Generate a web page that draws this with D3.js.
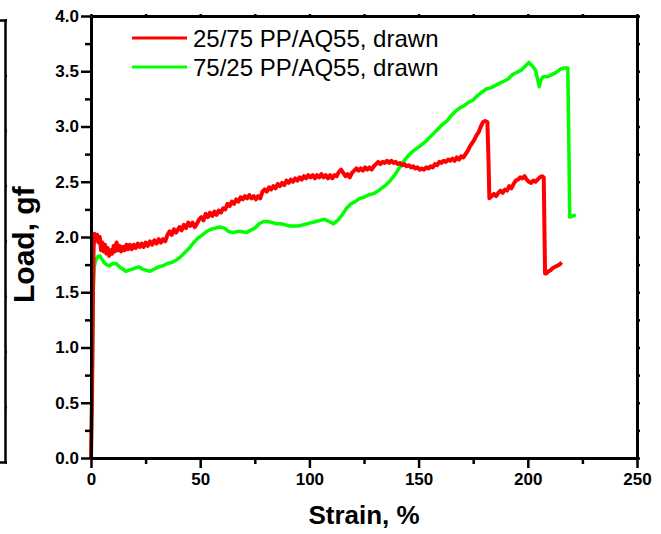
<!DOCTYPE html>
<html>
<head>
<meta charset="utf-8">
<script src="https://cdn.jsdelivr.net/npm/d3@7/dist/d3.min.js"></script>
<style>
  html, body { margin: 0; padding: 0; background: #fff; }
  svg { display: block; }
  text { font-family: "Liberation Sans", Arial, sans-serif; }
</style>
</head>
<body>
<svg id="chart" width="661" height="534"></svg>
<script>
// Tensile curves: load vs strain for two drawn PP/AQ55 blends
const seriesNames = ["25/75 PP/AQ55, drawn", "75/25 PP/AQ55, drawn"];
const seriesColors = ["#ff0000", "#00ff00"];

const redStrain = [0,0.5,0.9,1.2,1.6,2.2,2.8,3.4,4.0,4.6,5.2,5.8,6.4,7.0,7.6,8.3,9.0,9.7,10.4,11.0,11.7,12.4,13.1,13.8,14.6,15.4,16.2,17.0,17.8,18.7,19.6,20.5,21.4,22.3,23.2,24.1,25.0,26.0,27.0,28.0,29.0,30.0,31.0,32.0,33.0,34.0,35.0,36.0,37.0,38.0,39.0,40.5,41.5,42.5,43.5,44.5,45.5,46.5,47.5,48.5,49.5,50.5,51.5,52.5,53.5,54.5,55.5,56.5,57.5,58.5,59.5,60.5,61.5,62.5,63.5,64.5,65.5,66.5,67.5,68.5,69.5,70.5,71.5,72.5,73.5,74.5,75.5,76.5,77.5,78.5,79.5,80.5,81.5,82.5,83.5,84.5,85.5,86.5,87.5,88.5,89.5,90.5,91.5,92.5,93.5,94.5,95.5,96.5,97.5,98.5,99.5,100.5,101.5,102.5,103.5,104.5,105.5,106.5,107.5,108.5,109.5,110.5,111.5,112.5,113.5,114.5,115.5,116.5,117.5,118.5,119.5,120.5,121.5,122.5,123.5,124.5,125.5,126.5,127.5,128.5,129.5,130.5,131.5,132.5,133.5,134.5,135.5,136.5,137.5,138.5,139.5,140.5,141.5,142.5,143.5,144.5,145.5,146.5,147.5,148.5,149.5,150.5,151.5,152.5,153.5,154.5,155.5,156.5,157.5,158.5,159.5,160.5,161.5,162.5,163.5,164.5,165.5,166.5,167.5,168.5,169.5,170.5,171.5,172.5,173.5,174.5,175.5,176.5,177.5,178.5,179.5,180.5,181.5,182.0,182.4,183.5,184.5,185.5,186.5,187.5,188.5,189.5,190.5,191.5,192.5,193.5,194.5,195.5,196.5,197.5,198.5,199.5,200.5,201.5,202.5,203.5,204.5,205.5,206.5,207.3,207.6,207.9,208.5,209.5,210.5,211.5,212.5,213.5,214.5,215.5];
const redLoad = [0,0.6,1.5,1.9,2.03,1.97,2.02,1.95,2.0,1.88,1.95,1.87,1.93,1.85,1.9,1.83,1.88,1.85,1.92,1.87,1.95,1.88,1.92,1.87,1.91,1.88,1.93,1.89,1.93,1.89,1.93,1.9,1.94,1.91,1.94,1.91,1.95,1.92,1.96,1.93,1.97,1.94,1.98,1.95,1.98,1.96,2.02,2.05,2.02,2.07,2.04,2.09,2.06,2.11,2.08,2.13,2.1,2.13,2.09,2.12,2.16,2.18,2.15,2.21,2.18,2.22,2.19,2.23,2.2,2.24,2.22,2.26,2.25,2.3,2.28,2.32,2.3,2.34,2.32,2.36,2.34,2.37,2.35,2.38,2.35,2.37,2.34,2.37,2.35,2.41,2.43,2.41,2.45,2.43,2.46,2.44,2.48,2.46,2.49,2.47,2.51,2.49,2.52,2.5,2.53,2.51,2.54,2.52,2.55,2.53,2.56,2.54,2.56,2.53,2.56,2.54,2.57,2.54,2.56,2.53,2.56,2.53,2.56,2.55,2.59,2.61,2.58,2.55,2.57,2.54,2.58,2.6,2.62,2.6,2.62,2.6,2.63,2.61,2.63,2.61,2.64,2.66,2.68,2.66,2.68,2.67,2.69,2.67,2.69,2.67,2.68,2.66,2.67,2.65,2.66,2.64,2.65,2.63,2.64,2.62,2.63,2.61,2.62,2.61,2.63,2.62,2.64,2.63,2.66,2.65,2.68,2.67,2.69,2.68,2.7,2.69,2.71,2.69,2.72,2.7,2.73,2.72,2.75,2.78,2.82,2.85,2.88,2.92,2.95,3.0,3.04,3.05,3.04,2.7,2.35,2.37,2.39,2.37,2.4,2.42,2.4,2.43,2.42,2.46,2.44,2.48,2.51,2.52,2.54,2.53,2.55,2.52,2.5,2.49,2.51,2.5,2.52,2.54,2.55,2.54,2.1,1.67,1.67,1.69,1.7,1.72,1.73,1.74,1.75,1.77];

const greenStrain = [0,0.6,1.0,1.4,2.0,3.0,4.0,5.0,6.0,7.0,8.5,10.0,11.5,13.0,14.5,16.0,17.5,19.0,20.5,22.0,23.5,25.0,27.0,29.0,31.0,33.0,35.0,37.0,39.0,41.0,43.0,45.0,47.0,49.0,51.0,53.0,55.0,57.0,59.0,61.0,63.0,65.0,67.0,69.0,71.0,73.0,75.0,77.0,79.0,81.0,83.0,85.0,87.0,89.0,91.0,93.0,95.0,97.0,99.0,101.0,103.0,105.0,107.0,109.0,111.0,113.0,115.0,117.0,119.0,121.0,123.0,125.0,127.0,129.0,131.0,133.0,135.0,137.0,139.0,141.0,143.0,145.0,147.0,149.0,151.0,153.0,155.0,157.0,159.0,161.0,163.0,165.0,167.0,169.0,171.0,173.0,175.0,177.0,179.0,181.0,183.0,185.0,187.0,189.0,191.0,193.0,195.0,197.0,199.0,200.5,202.0,203.5,204.5,205.2,206.0,207.0,209.0,211.0,213.0,215.0,217.0,218.3,218.7,219.2,220.5,222.0];
const greenLoad = [0,0.8,1.5,1.72,1.78,1.82,1.83,1.8,1.77,1.75,1.74,1.76,1.76,1.73,1.71,1.69,1.7,1.71,1.72,1.73,1.71,1.7,1.69,1.71,1.73,1.74,1.76,1.77,1.79,1.82,1.86,1.9,1.95,1.99,2.02,2.05,2.07,2.08,2.09,2.08,2.05,2.04,2.05,2.05,2.04,2.06,2.08,2.12,2.14,2.14,2.13,2.12,2.12,2.11,2.1,2.1,2.1,2.11,2.12,2.13,2.14,2.15,2.16,2.14,2.12,2.15,2.2,2.26,2.3,2.32,2.35,2.36,2.38,2.39,2.41,2.44,2.47,2.51,2.56,2.62,2.68,2.73,2.77,2.8,2.83,2.86,2.9,2.94,2.98,3.02,3.05,3.1,3.14,3.17,3.19,3.22,3.24,3.28,3.31,3.34,3.35,3.37,3.39,3.41,3.43,3.47,3.49,3.51,3.55,3.58,3.55,3.51,3.43,3.36,3.42,3.45,3.45,3.47,3.49,3.52,3.53,3.53,3.0,2.18,2.19,2.2];

const xMajorTicks = [0, 50, 100, 150, 200, 250];
const xMinorTicks = [25, 75, 125, 175, 225];
const yMajorTicks = [0.0, 0.5, 1.0, 1.5, 2.0, 2.5, 3.0, 3.5, 4.0];
const yMinorTicks = [0.25, 0.75, 1.25, 1.75, 2.25, 2.75, 3.25, 3.75];
const xTitle = "Strain, %";
const yTitle = "Load, gf";

const svg = d3.select("#chart");
const plotLeft = 91, plotRight = 637, plotTop = 16, plotBottom = 458;

const x = d3.scaleLinear().domain([0, 250]).range([plotLeft, plotRight]);
const y = d3.scaleLinear().domain([0, 4]).range([plotBottom, plotTop]);

// Thin stray frame at the far left edge
const ghostY = d3.scaleLinear().domain([0, 4]).range([plotBottom + 4, plotTop + 4]);
const ghost = svg.append("g").attr("transform", "translate(5,0)");
ghost.call(d3.axisRight(ghostY).tickValues(yMajorTicks).tickSize(2).tickSizeOuter(-5).tickFormat(""));
ghost.select(".domain").attr("stroke-width", 2.5);
ghost.selectAll(".tick line").attr("stroke-width", 2.5);

// Curves
const line = d3.line().x(d => x(d[0])).y(d => y(d[1]));
const redData = redStrain.map((s, i) => [s, redLoad[i]]);
const greenData = greenStrain.map((s, i) => [s, greenLoad[i]]);

svg.append("path").datum(greenData).attr("d", line)
  .attr("fill", "none").attr("stroke", seriesColors[1]).attr("stroke-width", 3.5)
  .attr("stroke-linejoin", "round");
svg.append("path").datum(redData).attr("d", line)
  .attr("fill", "none").attr("stroke", seriesColors[0]).attr("stroke-width", 4)
  .attr("stroke-linejoin", "round");

// Axes
function styleAxis(g) {
  g.select(".domain").attr("stroke-width", 3);
  g.selectAll(".tick line").attr("stroke-width", 2.5);
}

const axisFont = "bold 17px 'Liberation Sans', Arial, sans-serif";

const gx = svg.append("g").attr("transform", `translate(0,${plotBottom})`)
  .call(d3.axisBottom(x).tickValues(xMajorTicks).tickSize(10).tickSizeOuter(0).tickPadding(5).tickFormat(d3.format("d")));
styleAxis(gx);
gx.selectAll(".tick text").style("font", axisFont).attr("fill", "#000");
const gxm = svg.append("g").attr("transform", `translate(0,${plotBottom})`)
  .call(d3.axisBottom(x).tickValues(xMinorTicks.filter(v => v <= 250)).tickSize(6).tickFormat(""));
gxm.select(".domain").remove();
gxm.selectAll(".tick line").attr("stroke-width", 2.5);

const gy = svg.append("g").attr("transform", `translate(${plotLeft},0)`)
  .call(d3.axisLeft(y).tickValues(yMajorTicks).tickSize(10).tickSizeOuter(0).tickPadding(2).tickFormat(d3.format(".1f")));
styleAxis(gy);
gy.selectAll(".tick text").style("font", axisFont).attr("fill", "#000");
const gym = svg.append("g").attr("transform", `translate(${plotLeft},0)`)
  .call(d3.axisLeft(y).tickValues(yMinorTicks).tickSize(6).tickFormat(""));
gym.select(".domain").remove();
gym.selectAll(".tick line").attr("stroke-width", 2.5);

// Top and right frame with small ticks
const gt = svg.append("g").attr("transform", `translate(0,${plotTop})`)
  .call(d3.axisTop(x).tickValues(xMajorTicks.concat(xMinorTicks)).tickSize(2).tickSizeOuter(0).tickFormat(""));
styleAxis(gt);
const gr = svg.append("g").attr("transform", `translate(${plotRight},0)`)
  .call(d3.axisRight(y).tickValues(yMajorTicks.concat(yMinorTicks)).tickSize(3).tickSizeOuter(0).tickFormat(""));
styleAxis(gr);

// Axis titles
svg.append("text").attr("x", (plotLeft + plotRight) / 2).attr("y", 524)
  .attr("text-anchor", "middle").style("font-weight", "bold").style("font-size", "26px")
  .text(xTitle);
svg.append("text").attr("transform", "translate(34,303) rotate(-90)")
  .attr("text-anchor", "start").style("font-weight", "bold").style("font-size", "30px")
  .text(yTitle);

// Legend
const legend = svg.append("g");
const legendY = [38, 67];
seriesNames.forEach((name, i) => {
  legend.append("line").attr("x1", 132).attr("x2", 187)
    .attr("y1", legendY[i]).attr("y2", legendY[i])
    .attr("stroke", seriesColors[i]).attr("stroke-width", 3);
  legend.append("text").attr("x", 193).attr("y", legendY[i] + 9)
    .style("font-size", "24px").attr("fill", "#000").text(name);
});
</script>
</body>
</html>
